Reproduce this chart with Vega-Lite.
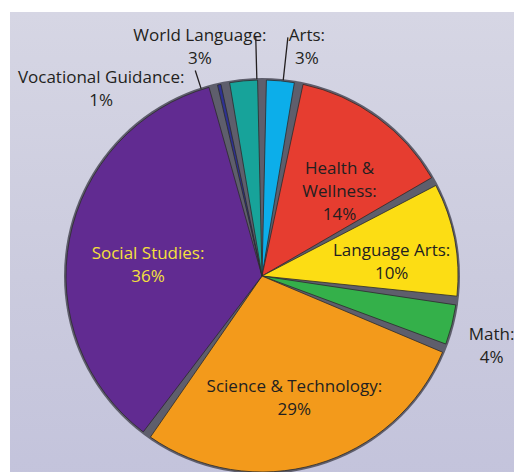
{
  "$schema": "https://vega.github.io/schema/vega-lite/v6.json",
  "width": 504,
  "height": 528,
  "autosize": "none",
  "padding": {"left": 10, "top": 12, "right": 5, "bottom": 0},
  "background": "white",
  "view": {"stroke": null, "fill": {"gradient": "linear", "x1": 0, "y1": 0, "x2": 0, "y2": 1,
        "stops": [{"offset": 0, "color": "#d6d6e4"}, {"offset": 0.5, "color": "#cbcbde"}, {"offset": 1, "color": "#c1c1db"}]}},
  "config": {
    "text": {"font": "Open Sans", "fontSize": 17, "lineHeight": 23, "color": "#231f20"}
  },
  "data": {
    "values": [
      {"rank": 1, "subject": "Arts", "pct": 3, "label": "Arts:\n3%"},
      {"rank": 2, "subject": "Health & Wellness", "pct": 14, "label": "Health &\nWellness:\n14%"},
      {"rank": 3, "subject": "Language Arts", "pct": 10, "label": "Language Arts:\n10%"},
      {"rank": 4, "subject": "Math", "pct": 4, "label": "Math:\n4%"},
      {"rank": 5, "subject": "Science & Technology", "pct": 29, "label": "Science & Technology:\n29%"},
      {"rank": 6, "subject": "Social Studies", "pct": 36, "label": "Social Studies:\n36%"},
      {"rank": 7, "subject": "Vocational Guidance", "pct": 1, "label": "Vocational Guidance:\n1%"},
      {"rank": 8, "subject": "World Language", "pct": 3, "label": "World Language:\n3%"}
    ]
  },
  "layer": [
    {
      "data": {"values": [{"k": 1}]},
      "mark": {"type": "arc", "theta": 0, "theta2": 6.2832, "radius": 198, "fill": "#5e5e6c"},
      "encoding": {}
    },
    {
      "mark": {"type": "arc", "radius": 196, "padAngle": 0.045, "stroke": "#2b2b2b", "strokeWidth": 0.8},
      "encoding": {
        "theta": {"field": "pct", "type": "quantitative", "stack": true},
        "order": {"field": "rank", "type": "quantitative"},
        "color": {
          "field": "subject", "type": "nominal", "legend": null,
          "scale": {
            "domain": ["Arts", "Health & Wellness", "Language Arts", "Math", "Science & Technology", "Social Studies", "Vocational Guidance", "World Language"],
            "range": ["#0caeea", "#e63d30", "#fcdd14", "#34b04a", "#f39a1b", "#612b91", "#2e3192", "#17a39a"]
          }
        }
      }
    },
    {
      "data": {"values": [{"k": 1}]},
      "mark": {"type": "arc", "theta": 0.108, "theta2": 0.108, "radius": 240, "radius2": 197, "fill": "transparent", "stroke": "#231f20", "strokeWidth": 1.3},
      "encoding": {}
    },
    {
      "data": {"values": [{"k": 1}]},
      "mark": {"type": "arc", "theta": 6.257, "theta2": 6.257, "radius": 240, "radius2": 197, "fill": "transparent", "stroke": "#231f20", "strokeWidth": 1.3},
      "encoding": {}
    },
    {
      "data": {"values": [{"k": 1}]},
      "mark": {"type": "arc", "theta": 5.969, "theta2": 5.969, "radius": 216, "radius2": 197, "fill": "transparent", "stroke": "#231f20", "strokeWidth": 1.3},
      "encoding": {}
    },
    {
      "mark": {"type": "text", "radius": 132, "lineBreak": "\n", "align": "center", "baseline": "middle"},
      "encoding": {
        "theta": {"field": "pct", "type": "quantitative", "stack": true},
        "order": {"field": "rank", "type": "quantitative"},
        "detail": {"field": "subject", "type": "nominal"},
        "text": {"condition": {"test": "datum.subject === 'Health & Wellness' || datum.subject === 'Language Arts'", "field": "label"}, "value": ""}
      }
    },
    {
      "mark": {"type": "text", "radius": 116, "lineBreak": "\n", "align": "center", "baseline": "middle"},
      "encoding": {
        "theta": {"field": "pct", "type": "quantitative", "stack": true},
        "order": {"field": "rank", "type": "quantitative"},
        "detail": {"field": "subject", "type": "nominal"},
        "text": {"condition": {"test": "datum.subject === 'Social Studies' || datum.subject === 'Science & Technology'", "field": "label"}, "value": ""},
        "color": {"condition": {"test": "datum.subject === 'Social Studies'", "value": "#f6e03c"}, "value": "#231f20"}
      }
    },
    {
      "mark": {"type": "text", "radius": 237, "lineBreak": "\n", "align": "center", "baseline": "middle"},
      "encoding": {
        "theta": {"field": "pct", "type": "quantitative", "stack": true},
        "order": {"field": "rank", "type": "quantitative"},
        "detail": {"field": "subject", "type": "nominal"},
        "text": {"condition": {"test": "datum.subject === 'Math'", "field": "label"}, "value": ""}
      }
    },
    {
      "transform": [{"filter": "datum.subject === 'Arts'"}],
      "mark": {"type": "text", "theta": 0.185, "radius": 244, "lineBreak": "\n", "align": "center", "baseline": "middle"},
      "encoding": {"text": {"field": "label"}}
    },
    {
      "transform": [{"filter": "datum.subject === 'World Language'"}],
      "mark": {"type": "text", "theta": 6.030, "radius": 248, "lineBreak": "\n", "align": "center", "baseline": "middle"},
      "encoding": {"text": {"field": "label"}}
    },
    {
      "transform": [{"filter": "datum.subject === 'Vocational Guidance'"}],
      "mark": {"type": "text", "theta": 5.601, "radius": 255, "lineBreak": "\n", "align": "center", "baseline": "middle"},
      "encoding": {"text": {"field": "label"}}
    }
  ]
}
